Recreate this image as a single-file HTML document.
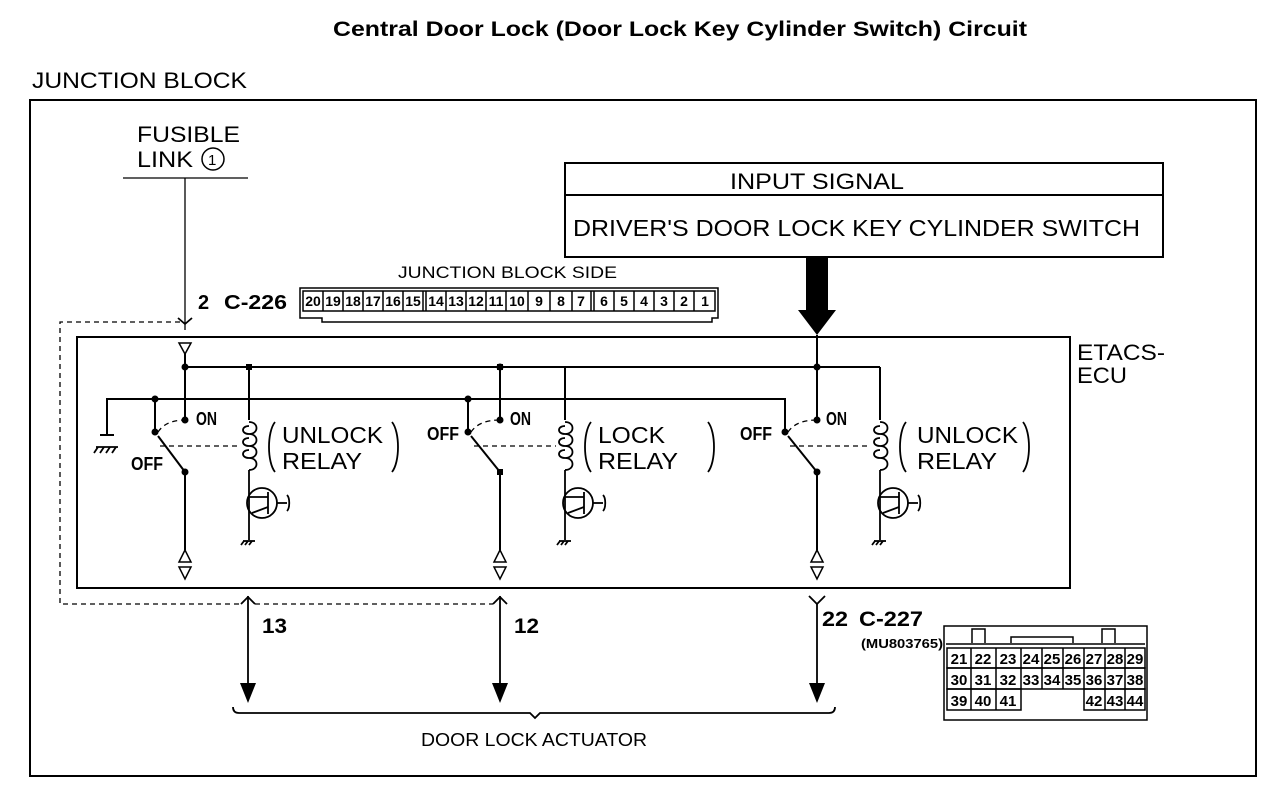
<!DOCTYPE html>
<html><head><meta charset="utf-8"><style>
html,body{margin:0;padding:0;background:#fff;}
svg{display:block;font-family:"Liberation Sans",sans-serif;}
.b{font-weight:bold;}
</style></head><body>
<svg width="1280" height="800" viewBox="0 0 1280 800" xmlns="http://www.w3.org/2000/svg">
<g fill="#000">
<text x="333" y="36" font-size="21" class="b" textLength="694" lengthAdjust="spacingAndGlyphs">Central Door Lock (Door Lock Key Cylinder Switch) Circuit</text>
<text x="32" y="88" font-size="22" textLength="215" lengthAdjust="spacingAndGlyphs">JUNCTION BLOCK</text>
<text x="137" y="142" font-size="22" textLength="103" lengthAdjust="spacingAndGlyphs">FUSIBLE</text>
<text x="137" y="167" font-size="22" textLength="56" lengthAdjust="spacingAndGlyphs">LINK</text>
<text x="1077" y="360" font-size="22" textLength="88" lengthAdjust="spacingAndGlyphs">ETACS-</text>
<text x="1077" y="383" font-size="22" textLength="50" lengthAdjust="spacingAndGlyphs">ECU</text>
<text x="730" y="189" font-size="22" textLength="174" lengthAdjust="spacingAndGlyphs">INPUT SIGNAL</text>
<text x="573" y="236" font-size="23" textLength="567" lengthAdjust="spacingAndGlyphs">DRIVER'S DOOR LOCK KEY CYLINDER SWITCH</text>
<text x="398" y="278" font-size="17" textLength="219" lengthAdjust="spacingAndGlyphs">JUNCTION BLOCK SIDE</text>
<text x="198" y="309" font-size="20" class="b">2</text>
<text x="224" y="309" font-size="20" class="b" textLength="63" lengthAdjust="spacingAndGlyphs">C-226</text>
<text x="262" y="633" font-size="21" class="b" textLength="25" lengthAdjust="spacingAndGlyphs">13</text>
<text x="514" y="633" font-size="21" class="b" textLength="25" lengthAdjust="spacingAndGlyphs">12</text>
<text x="822" y="626" font-size="21" class="b" textLength="26" lengthAdjust="spacingAndGlyphs">22</text>
<text x="859" y="626" font-size="21" class="b" textLength="64" lengthAdjust="spacingAndGlyphs">C-227</text>
<text x="861" y="648" font-size="13" class="b" textLength="82" lengthAdjust="spacingAndGlyphs">(MU803765)</text>
<text x="421" y="746" font-size="18" textLength="226" lengthAdjust="spacingAndGlyphs">DOOR LOCK ACTUATOR</text>
<g font-size="23">
<text x="282" y="443" textLength="101" lengthAdjust="spacingAndGlyphs">UNLOCK</text><text x="282" y="469" textLength="80" lengthAdjust="spacingAndGlyphs">RELAY</text>
<text x="598" y="443" textLength="67" lengthAdjust="spacingAndGlyphs">LOCK</text><text x="598" y="469" textLength="80" lengthAdjust="spacingAndGlyphs">RELAY</text>
<text x="917" y="443" textLength="101" lengthAdjust="spacingAndGlyphs">UNLOCK</text><text x="917" y="469" textLength="80" lengthAdjust="spacingAndGlyphs">RELAY</text>
</g>
<g font-size="18" class="b">
<text x="196" y="425" textLength="21" lengthAdjust="spacingAndGlyphs">ON</text><text x="131" y="470" textLength="32" lengthAdjust="spacingAndGlyphs">OFF</text>
<text x="510" y="425" textLength="21" lengthAdjust="spacingAndGlyphs">ON</text><text x="427" y="440" textLength="32" lengthAdjust="spacingAndGlyphs">OFF</text>
<text x="826" y="425" textLength="21" lengthAdjust="spacingAndGlyphs">ON</text><text x="740" y="440" textLength="32" lengthAdjust="spacingAndGlyphs">OFF</text>
</g>
</g>
<g fill="none" stroke="#000" stroke-width="2">
<rect x="30" y="100" width="1226" height="676"/>
<rect x="565" y="163" width="598" height="94"/>
<line x1="565" y1="195" x2="1163" y2="195"/>
<rect x="77" y="337" width="993" height="251"/>
<line x1="185" y1="367" x2="880" y2="367"/>
<line x1="880" y1="367" x2="880" y2="420"/>
<path d="M107 435 V399 H785 V432"/>
<line x1="100" y1="435" x2="114" y2="435"/>
<line x1="155" y1="399" x2="155" y2="432"/>
<line x1="468" y1="399" x2="468" y2="432"/>
<line x1="249" y1="367" x2="249" y2="420"/>
<line x1="565" y1="367" x2="565" y2="420"/>
<line x1="185" y1="352" x2="185" y2="420"/>
<line x1="500" y1="367" x2="500" y2="420"/>
<line x1="817" y1="335" x2="817" y2="420"/>
<line x1="185" y1="472" x2="185" y2="550"/>
<line x1="500" y1="472" x2="500" y2="550"/>
<line x1="817" y1="472" x2="817" y2="550"/>
<line x1="158" y1="436" x2="185" y2="472"/>
<line x1="471" y1="436" x2="500" y2="472"/>
<line x1="788" y1="436" x2="817" y2="472"/>
<line x1="185" y1="178" x2="185" y2="330" stroke-width="1.3"/>
<line x1="123" y1="178" x2="248" y2="178" stroke-width="1.3"/>
<circle cx="213" cy="159" r="11" stroke-width="1.5"/>
</g>
<text x="208" y="165" font-size="15" font-family="Liberation Sans">1</text>
<g fill="none" stroke="#000" stroke-width="1.8">
<g id="r1">
<path d="M249 422 c10 0 10 12 0 12 c-8 0 -8 -8 0 -8 M249 434 c10 0 10 12 0 12 c-8 0 -8 -8 0 -8 M249 446 c10 0 10 12 0 12 c-8 0 -8 -8 0 -8 M249 458 c10 0 10 12 0 12"/>
<line x1="249" y1="470" x2="249" y2="540"/>
<circle cx="262" cy="503" r="15"/>
<line x1="268" y1="492" x2="268" y2="514"/>
<line x1="249" y1="497" x2="268" y2="497"/>
<line x1="268" y1="507" x2="252" y2="513"/>
<line x1="277" y1="503" x2="287" y2="503"/>
<path d="M287 495 c3 3 3 13 0 16"/>
<line x1="243" y1="541" x2="255" y2="541"/>
<line x1="244" y1="541" x2="241" y2="545"/><line x1="248" y1="541" x2="245" y2="545"/><line x1="252" y1="541" x2="249" y2="545"/>
<path d="M275 422 c-8 10 -8 40 0 50"/>
<path d="M392 422 c8 10 8 40 0 50"/>
</g>
<use href="#r1" transform="translate(316,0)"/>
<use href="#r1" transform="translate(631,0)"/>
<line x1="96" y1="447" x2="118" y2="447"/>
<line x1="98" y1="447" x2="94" y2="453"/><line x1="104" y1="447" x2="100" y2="453"/><line x1="110" y1="447" x2="106" y2="453"/><line x1="116" y1="447" x2="112" y2="453"/>
</g>
<g fill="none" stroke="#000" stroke-width="1.3" stroke-dasharray="5,4">
<line x1="160" y1="446" x2="240" y2="446"/>
<line x1="474" y1="446" x2="556" y2="446"/>
<line x1="790" y1="446" x2="871" y2="446"/>
<path d="M158 432 q8 -12 27 -12"/>
<path d="M471 432 q8 -12 29 -12"/>
<path d="M788 432 q8 -12 29 -12"/>
<path d="M180 322 H60 V604 H240 M255 604 H493"/>
</g>
<g fill="#000">
<circle cx="185" cy="367" r="3.5"/><circle cx="500" cy="367" r="3.5"/><circle cx="817" cy="367" r="3.5"/>
<rect x="246" y="364" width="6" height="6"/><rect x="497" y="364" width="6" height="6"/>
<circle cx="155" cy="399" r="3.5"/><circle cx="468" cy="399" r="3.5"/>
<circle cx="155" cy="432" r="3.5"/><circle cx="468" cy="432" r="3.5"/><circle cx="785" cy="432" r="3.5"/>
<circle cx="185" cy="420" r="3.5"/><circle cx="500" cy="420" r="3.5"/><circle cx="817" cy="420" r="3.5"/>
<circle cx="185" cy="472" r="3.5"/><rect x="497" y="469" width="6" height="6"/><circle cx="817" cy="472" r="3.5"/>
<polygon points="806,257 828,257 828,310 836,310 817,335 798,310 806,310"/>
<polygon points="240,683 256,683 248,703"/>
<polygon points="492,683 508,683 500,703"/>
<polygon points="809,683 825,683 817,703"/>
</g>
<g fill="#fff" stroke="#000" stroke-width="1.5">
<polygon points="179,343 191,343 185,354"/>
<polygon points="185,550 179,562 191,562"/><polygon points="179,567 191,567 185,579"/>
<polygon points="500,550 494,562 506,562"/><polygon points="494,567 506,567 500,579"/>
<polygon points="817,550 811,562 823,562"/><polygon points="811,567 823,567 817,579"/>
</g>
<g fill="none" stroke="#000" stroke-width="1.8">
<path d="M178 318 L185 324 L192 318"/>
<line x1="248" y1="596" x2="248" y2="685"/><path d="M241 604 L248 597 L255 604"/>
<line x1="500" y1="596" x2="500" y2="685"/><path d="M493 604 L500 597 L507 604"/>
<line x1="817" y1="603" x2="817" y2="685"/><path d="M809 596 L817 604 L825 596"/>
<path d="M233 707 q0 6 6 6 H530 l5 5 l5 -5 H829 q6 0 6 -6"/>
</g>
<g fill="none" stroke="#000" stroke-width="1.5">
<path d="M300 288 H718 V318 H712 V322 H322 V318 H300 Z"/>
<rect x="303" y="291" width="412" height="20"/>
</g>
<g stroke="#000" stroke-width="1.5">
<line x1="323" y1="291" x2="323" y2="311"/><line x1="343" y1="291" x2="343" y2="311"/><line x1="363" y1="291" x2="363" y2="311"/><line x1="383" y1="291" x2="383" y2="311"/><line x1="403" y1="291" x2="403" y2="311"/><line x1="423" y1="291" x2="423" y2="311"/><line x1="426" y1="291" x2="426" y2="311"/><line x1="446" y1="291" x2="446" y2="311"/><line x1="466" y1="291" x2="466" y2="311"/><line x1="486" y1="291" x2="486" y2="311"/><line x1="506" y1="291" x2="506" y2="311"/><line x1="528" y1="291" x2="528" y2="311"/><line x1="550" y1="291" x2="550" y2="311"/><line x1="572" y1="291" x2="572" y2="311"/><line x1="591" y1="291" x2="591" y2="311"/><line x1="594" y1="291" x2="594" y2="311"/><line x1="614" y1="291" x2="614" y2="311"/><line x1="634" y1="291" x2="634" y2="311"/><line x1="654" y1="291" x2="654" y2="311"/><line x1="674" y1="291" x2="674" y2="311"/><line x1="694" y1="291" x2="694" y2="311"/>
</g>
<g font-size="14" class="b" text-anchor="middle" fill="#000">
<text x="313" y="306">20</text><text x="333" y="306">19</text><text x="353" y="306">18</text><text x="373" y="306">17</text><text x="393" y="306">16</text><text x="413" y="306">15</text><text x="436" y="306">14</text><text x="456" y="306">13</text><text x="476" y="306">12</text><text x="496" y="306">11</text><text x="517" y="306">10</text><text x="539" y="306">9</text><text x="561" y="306">8</text><text x="581" y="306">7</text><text x="604" y="306">6</text><text x="624" y="306">5</text><text x="644" y="306">4</text><text x="664" y="306">3</text><text x="684" y="306">2</text><text x="705" y="306">1</text>
</g>
<g fill="none" stroke="#000" stroke-width="1.5">
<rect x="944" y="626" width="203" height="94"/>
<path d="M972 643 V629 H985 V643 M1011 643 V637 H1073 V643 M1102 643 V629 H1115 V643"/>
<line x1="946" y1="644" x2="1145" y2="644"/>
<rect x="947" y="648" width="198" height="20"/>
<rect x="947" y="668" width="198" height="21"/>
<rect x="947" y="689" width="74" height="21"/>
<rect x="1084" y="689" width="61" height="21"/>
</g>
<g stroke="#000" stroke-width="1.5">
<line x1="971" y1="648" x2="971" y2="710"/><line x1="996" y1="648" x2="996" y2="710"/><line x1="1021" y1="648" x2="1021" y2="689"/><line x1="1042" y1="648" x2="1042" y2="689"/><line x1="1063" y1="648" x2="1063" y2="689"/><line x1="1084" y1="648" x2="1084" y2="689"/><line x1="1105" y1="648" x2="1105" y2="710"/><line x1="1125" y1="648" x2="1125" y2="710"/>
</g>
<g font-size="15" class="b" text-anchor="middle" fill="#000">
<text x="959" y="664">21</text><text x="983" y="664">22</text><text x="1008" y="664">23</text><text x="1031" y="664">24</text><text x="1052" y="664">25</text><text x="1073" y="664">26</text><text x="1094" y="664">27</text><text x="1115" y="664">28</text><text x="1135" y="664">29</text>
<text x="959" y="685">30</text><text x="983" y="685">31</text><text x="1008" y="685">32</text><text x="1031" y="685">33</text><text x="1052" y="685">34</text><text x="1073" y="685">35</text><text x="1094" y="685">36</text><text x="1115" y="685">37</text><text x="1135" y="685">38</text>
<text x="959" y="706">39</text><text x="983" y="706">40</text><text x="1008" y="706">41</text><text x="1094" y="706">42</text><text x="1115" y="706">43</text><text x="1135" y="706">44</text>
</g>
</svg>
</body></html>
